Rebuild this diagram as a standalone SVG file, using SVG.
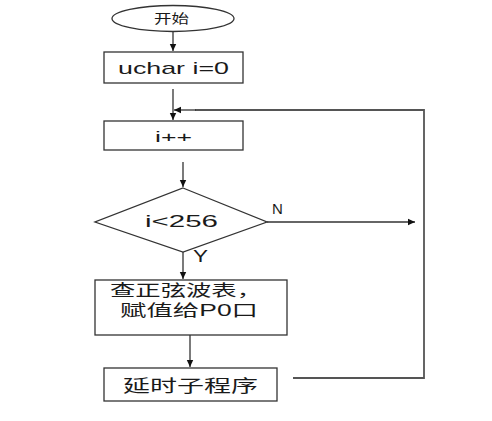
<svg xmlns="http://www.w3.org/2000/svg" width="492" height="421" viewBox="0 0 492 421">
<defs>
<marker id="ah" markerWidth="8" markerHeight="8" refX="7" refY="4" orient="auto" markerUnits="userSpaceOnUse">
<path d="M0,0.8 L7,4 L0,7.2 Z" fill="#111"/>
</marker>
<style>
.shape{fill:#fff;stroke:#333;stroke-width:1.3}
.ln{fill:none;stroke:#333;stroke-width:1.3}
.lb{fill:none;stroke:#555;stroke-width:1.8}
.t{font-family:"Liberation Sans","Noto Sans CJK SC",sans-serif;fill:#1a1a1a}
</style>
</defs>
<rect width="492" height="421" fill="#fff"/>
<g id="start">
<ellipse class="shape" cx="173" cy="18.5" rx="61" ry="13"/>
<text class="t" x="154" y="23" font-size="13" textLength="35" lengthAdjust="spacingAndGlyphs">开始</text>
</g>
<g id="init">
<rect class="shape" x="104" y="52" width="139" height="31"/>
<text class="t" x="118" y="74" font-size="17" textLength="111" lengthAdjust="spacingAndGlyphs">uchar i=0</text>
</g>
<g id="inc">
<rect class="shape" x="104" y="121" width="139" height="29"/>
<text class="t" x="155" y="142" font-size="15" textLength="37" lengthAdjust="spacingAndGlyphs">i++</text>
</g>
<g id="cond">
<polygon class="shape" points="183,188 267,222 183,252 95,222"/>
<text class="t" x="145" y="227" font-size="17" textLength="73" lengthAdjust="spacingAndGlyphs">i&lt;256</text>
</g>
<g id="lookup">
<rect class="shape" x="95" y="280" width="192" height="55"/>
<text class="t" x="110" y="296" font-size="16" textLength="152" lengthAdjust="spacingAndGlyphs">查正弦波表，</text>
<text class="t" x="120" y="316" font-size="16" textLength="138" lengthAdjust="spacingAndGlyphs">赋值给P0口</text>
</g>
<g id="delay">
<rect class="shape" x="104" y="368" width="173" height="33"/>
<text class="t" x="123" y="392" font-size="17" textLength="135" lengthAdjust="spacingAndGlyphs">延时子程序</text>
</g>
<g id="connectors">
<line class="ln" x1="173" y1="32" x2="173" y2="51" marker-end="url(#ah)"/>
<line class="ln" x1="173" y1="89" x2="173" y2="120" marker-end="url(#ah)"/>
<line class="ln" x1="183" y1="162" x2="183" y2="187" marker-end="url(#ah)"/>
<line class="ln" x1="183" y1="252" x2="183" y2="279" marker-end="url(#ah)"/>
<line class="ln" x1="190" y1="335" x2="190" y2="367" marker-end="url(#ah)"/>
<line class="ln" x1="267" y1="222" x2="415" y2="222" marker-end="url(#ah)"/>
<polyline class="lb" points="293,378 424,378 424,110 195,110"/>
<line class="ln" x1="196" y1="110" x2="174" y2="110" marker-end="url(#ah)"/>
<text class="t" x="272" y="214" font-size="15">N</text>
<text class="t" x="193" y="262" font-size="16" textLength="15" lengthAdjust="spacingAndGlyphs">Y</text>
</g>
</svg>
